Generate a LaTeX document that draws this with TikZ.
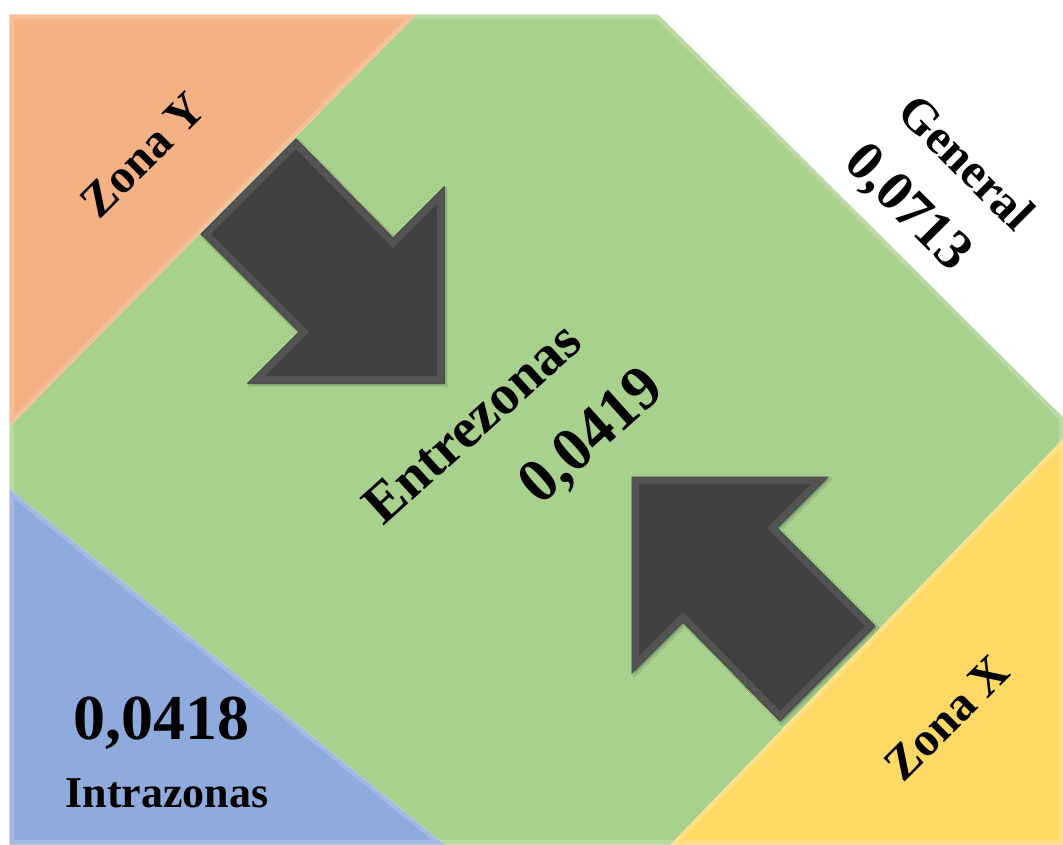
\documentclass[tikz,border=0pt]{standalone}
\usepackage{fontspec}
\setmainfont{Liberation Serif}
\usetikzlibrary{shadows.blur}
\definecolor{ZoneOrange}{RGB}{244, 177, 131}
\definecolor{ZoneGreen}{RGB}{169, 209, 142}
\definecolor{ZoneBlue}{RGB}{143, 170, 220}
\definecolor{ZoneYellow}{RGB}{255, 217, 102}
\definecolor{ArrowGray}{RGB}{64, 64, 64}
\tikzset{
  zone/.style={fill=#1, draw=#1!60!white, line width=1.5pt, line join=miter},
  zonebevel/.style={draw=#1!82!white, line width=8pt, line join=miter},
  blockarr/.style={fill=ArrowGray, draw=ArrowGray!75!black, line width=1pt,
    line join=miter, blur shadow={shadow xshift=2pt, shadow yshift=-2pt,
    shadow blur steps=6, shadow opacity=30}},
  arrbevel/.style={draw=ArrowGray!90!white, line width=14pt, line join=miter},
  lbl/.style={font=\bfseries\fontsize{#1}{#1}\selectfont, inner sep=0pt,
    text=black},
}
% outlines of the shapes, used for fill and bevel
\newcommand\zoneGpath{(10,15) -- (658,15) -- (1063,418) -- (1063,844)
  -- (10,844) -- cycle}
\newcommand\zoneOpath{(10,15) -- (415,15) -- (10,425) -- cycle}
\newcommand\zoneBpath{(10,490) -- (443,844) -- (10,844) -- cycle}
\newcommand\zoneYpath{(1063,440) -- (1063,844) -- (672,844) -- cycle}
\newcommand\arrowYpath{(296,139) -- (393,238) -- (444,187) -- (444,383)
  -- (248,383) -- (299,332) -- (201,234) -- cycle}
\newcommand\arrowXpath{(780,721) -- (683,622) -- (632,673) -- (632,477)
  -- (828,477) -- (777,528) -- (875,626) -- cycle}

\begin{document}
\begin{tikzpicture}[x=1pt, y=-1pt]
  \useasboundingbox (0,0) rectangle (1063,844);
  % zones
  \filldraw[zone=ZoneGreen] \zoneGpath;
  \begin{scope} \clip \zoneGpath; \draw[zonebevel=ZoneGreen] \zoneGpath; \end{scope}
  \filldraw[zone=ZoneOrange] \zoneOpath;
  \begin{scope} \clip \zoneOpath; \draw[zonebevel=ZoneOrange] \zoneOpath; \end{scope}
  \filldraw[zone=ZoneBlue] \zoneBpath;
  \begin{scope} \clip \zoneBpath; \draw[zonebevel=ZoneBlue] \zoneBpath; \end{scope}
  \filldraw[zone=ZoneYellow] \zoneYpath;
  \begin{scope} \clip \zoneYpath; \draw[zonebevel=ZoneYellow] \zoneYpath; \end{scope}
  % arrows
  \filldraw[blockarr] \arrowYpath;
  \begin{scope} \clip \arrowYpath; \draw[arrbevel] \arrowYpath; \end{scope}
  \filldraw[blockarr] \arrowXpath;
  \begin{scope} \clip \arrowXpath; \draw[arrbevel] \arrowXpath; \end{scope}
  % labels
  \node[lbl=48, rotate=45] (zonaY) at (143,155) {Zona Y};
  \node[lbl=48, rotate=45] (zonaX) at (947,718) {Zona X};
  \node[lbl=49, rotate=-45] (general) at (967,162) {General};
  \node[lbl=56, rotate=-45] (generalVal) at (907,209) {0,0713};
  \node[lbl=56, rotate=42] (entre) at (472,423) {Entrezonas};
  \node[lbl=62, rotate=42] (entreVal) at (593,438) {0,0419};
  \node[lbl=64] (intraVal) at (161,723) {0,0418};
  \node[lbl=44] (intra) at (167,793) {Intrazonas};
\end{tikzpicture}
\end{document}
